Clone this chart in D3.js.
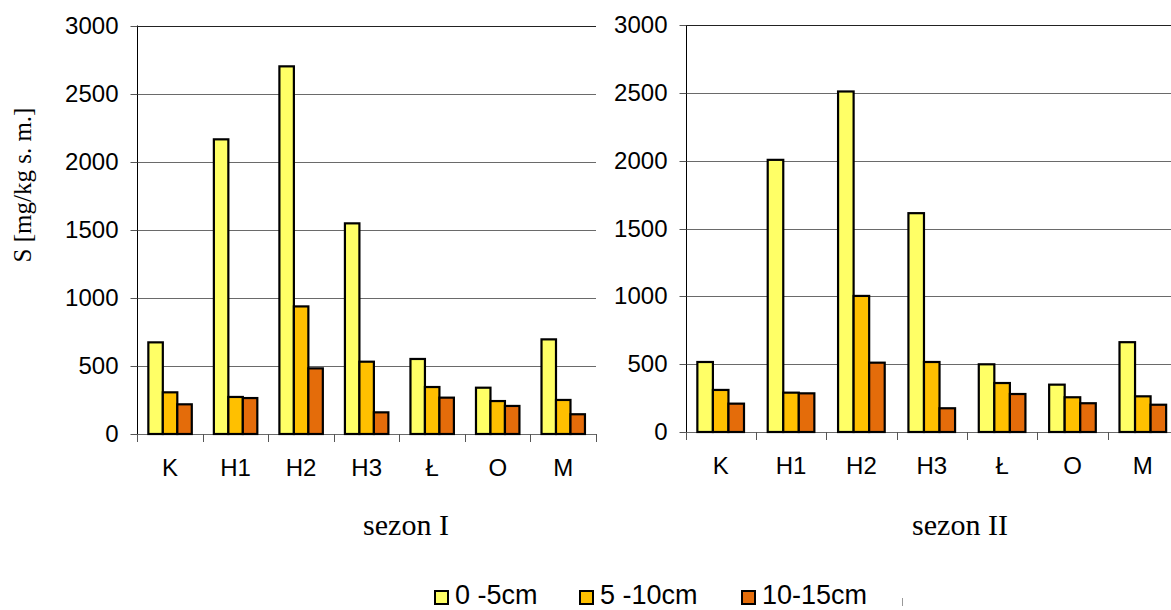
<!DOCTYPE html>
<html>
<head>
<meta charset="utf-8">
<script src="https://cdn.jsdelivr.net/npm/d3@7"></script>
<style>
  html, body { margin: 0; padding: 0; background: #fff; }
  svg { display: block; }
</style>
</head>
<body>
<svg id="chart" width="1171" height="610"></svg>
<script>
const categories = ["K", "H1", "H2", "H3", "Ł", "O", "M"];
const seriesNames = ["0 -5cm", "5 -10cm", "10-15cm"];
const yTicks = [0, 500, 1000, 1500, 2000, 2500, 3000];

const s1_0_5   = [673, 2164, 2700, 1547, 551, 340, 695];
const s1_5_10  = [306, 272, 937, 531, 345, 242, 250];
const s1_10_15 = [218, 264, 482, 159, 267, 206, 145];

const s2_0_5   = [516, 2006, 2510, 1613, 499, 349, 662];
const s2_5_10  = [310, 290, 1003, 516, 361, 256, 263];
const s2_10_15 = [209, 285, 511, 175, 280, 212, 201];

const panelTitles = ["sezon I", "sezon II"];
const yTitle = "S [mg/kg s. m.]";

const colors = ["#FFFF66", "#FFC000", "#E46C0A"];

const svg = d3.select("#chart");

const panels = [
  { x0: 137.3, x1: 596, y0: 434, y1: 25.5, data: [s1_0_5, s1_5_10, s1_10_15], title: panelTitles[0], tx: 406 },
  { x0: 685.5, x1: 1178, y0: 432, y1: 25, data: [s2_0_5, s2_5_10, s2_10_15], title: panelTitles[1], tx: 960 }
];

panels.forEach(p => {
  const g = svg.append("g");
  const x = d3.scaleBand().domain(categories).range([p.x0, p.x1]).paddingInner(0.337).paddingOuter(0.1685);
  const xBound = d3.scaleBand().domain(categories).range([p.x0, p.x1]).padding(0);
  const xs = d3.scaleBand().domain(d3.range(seriesNames.length)).range([0, x.bandwidth()]).padding(0);
  const y = d3.scaleLinear().domain([0, 3000]).range([p.y0, p.y1]);

  // gridlines
  g.selectAll("line.grid").data(yTicks.filter(t => t > 0)).enter().append("line")
    .attr("x1", p.x0).attr("x2", p.x1)
    .attr("y1", d => Math.round(y(d)) + 0.5).attr("y2", d => Math.round(y(d)) + 0.5)
    .attr("stroke", d => d === 3000 ? "#222" : "#6a6a6a").attr("stroke-width", 1);

  // y axis
  const yAxis = d3.axisLeft(y).tickValues(yTicks).tickSize(7).tickPadding(12).tickFormat(d3.format("d"));
  const ya = g.append("g").attr("transform", `translate(${Math.round(p.x0) + 0.5},0)`).call(yAxis);
  ya.select(".domain").attr("stroke", "#000").attr("d", `M0,${p.y1}V${p.y0}`);
  ya.selectAll(".tick line").attr("stroke", "#555");
  ya.selectAll(".tick").attr("transform", d => `translate(0,${Math.round(y(d)) + 0.5})`);
  ya.selectAll("text").attr("font-family", "Liberation Sans, Arial, sans-serif").attr("font-size", 24).attr("fill", "#000");

  // x axis
  const xAxis = d3.axisBottom(x).tickSize(0).tickPadding(0);
  const xa = g.append("g").attr("transform", `translate(0,${Math.round(p.y0) + 0.5})`).call(xAxis);
  xa.select(".domain").attr("stroke", "#6a6a6a").attr("d", `M${p.x0},0H${p.x1}`);
  xa.selectAll("text").attr("font-family", "Liberation Sans, Arial, sans-serif").attr("font-size", 24)
    .attr("fill", "#000").attr("dy", null).attr("y", 41);
  // category boundary ticks
  g.selectAll("line.xt").data(categories.concat(["end"])).enter().append("line")
    .attr("x1", (d, i) => Math.round(i < categories.length ? xBound(d) : p.x1) + 0.5)
    .attr("x2", (d, i) => Math.round(i < categories.length ? xBound(d) : p.x1) + 0.5)
    .attr("y1", Math.round(p.y0)).attr("y2", Math.round(p.y0) + 8)
    .attr("stroke", "#555").attr("stroke-width", 1);

  // bars
  p.data.forEach((vals, si) => {
    g.selectAll(null).data(vals).enter().append("rect")
      .attr("x", (d, i) => x(categories[i]) + xs(si))
      .attr("y", d => y(d))
      .attr("width", xs.bandwidth())
      .attr("height", d => y(0) - y(d))
      .attr("fill", colors[si])
      .attr("stroke", "#000").attr("stroke-width", 2.2);
  });

  g.append("text").attr("x", p.tx).attr("y", 535).attr("text-anchor", "middle")
    .attr("font-family", "Liberation Serif, 'Times New Roman', serif").attr("font-size", 30)
    .text(p.title);
});

// y title
svg.append("text")
  .attr("transform", "translate(31,185) rotate(-90)")
  .attr("text-anchor", "middle")
  .attr("font-family", "Liberation Serif, 'Times New Roman', serif").attr("font-size", 25)
  .text(yTitle);

// legend
const legendX = [435, 580, 742];
const lg = svg.append("g");
seriesNames.forEach((name, i) => {
  lg.append("rect").attr("x", legendX[i]).attr("y", 591).attr("width", 13).attr("height", 13)
    .attr("fill", colors[i]).attr("stroke", "#000").attr("stroke-width", 2);
  lg.append("text").attr("x", legendX[i] + 20).attr("y", 604)
    .attr("font-family", "Liberation Sans, Arial, sans-serif").attr("font-size", 27)
    .text(name);
});
svg.append("line").attr("x1", 902.5).attr("x2", 902.5).attr("y1", 598).attr("y2", 606)
  .attr("stroke", "#999").attr("stroke-width", 1);
</script>
</body>
</html>
